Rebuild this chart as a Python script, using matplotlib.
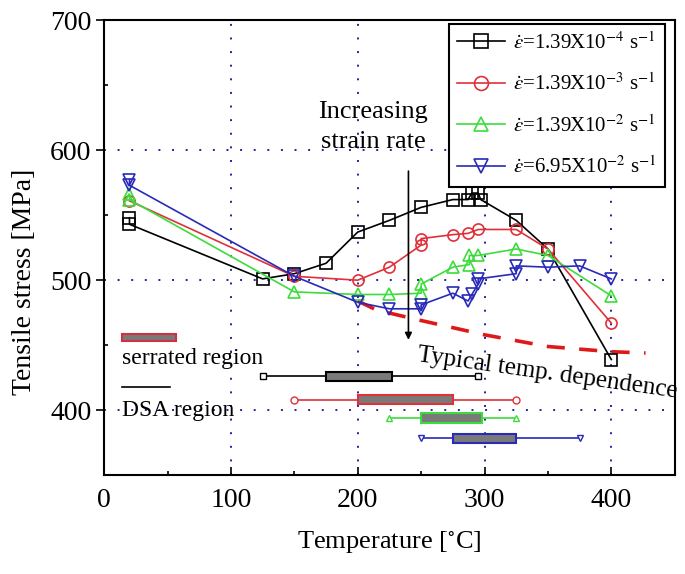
"""
Tensile stress vs. temperature for four strain rates, with DSA / serrated ranges
"""

import matplotlib
matplotlib.use("Agg")
import matplotlib.pyplot as plt
from matplotlib.ticker import MultipleLocator

plt.rcParams['font.family'] = ['Liberation Serif', 'DejaVu Serif']
plt.rcParams['mathtext.fontset'] = 'stix'

# Tensile stress data [MPa] for each strain rate
temp_1 = [20, 20, 125, 150, 175, 200, 225, 250, 275, 287, 290, 295, 297, 325, 350, 400]
stress_1 = [548, 543, 501, 505, 513, 537, 546, 556, 562, 562, 567, 567, 562, 546, 524, 439]

temp_2 = [20, 150, 200, 225, 250, 250, 275, 287, 295, 325, 350, 400]
stress_2 = [561, 503, 500, 510, 527, 532, 535, 536, 539, 539, 524, 467]

temp_3 = [20, 20, 150, 200, 225, 250, 250, 275, 288, 288, 295, 325, 350, 400]
stress_3 = [566, 562, 491, 489, 489, 490, 497, 510, 512, 519, 519, 524, 519, 488]

temp_4 = [20, 20, 150, 200, 225, 250, 250, 275, 287, 290, 295, 295, 325, 325, 350, 375, 400]
stress_4 = [577, 573, 503, 483, 478, 478, 481, 490, 484, 489, 497, 501, 505, 511, 510, 511, 501]

labels = [r'$\dot{\varepsilon}$=1.39X10$^{-4}$ s$^{-1}$',
          r'$\dot{\varepsilon}$=1.39X10$^{-3}$ s$^{-1}$',
          r'$\dot{\varepsilon}$=1.39X10$^{-2}$ s$^{-1}$',
          r'$\dot{\varepsilon}$=6.95X10$^{-2}$ s$^{-1}$']

# Typical (non-DSA) temperature dependence
typical_temp = [200, 215, 250, 300, 350, 400, 427]
typical_stress = [484, 477, 469, 458, 449, 445, 444]

# DSA region and serrated region per strain rate [deg C], drawn at bar_level
dsa_start = [125, 150, 225, 250]
dsa_end = [295, 325, 325, 375]
serr_start = [175, 200, 250, 275]
serr_end = [227, 275, 298, 325]
bar_level = [426, 408, 394, 378.5]

COLORS = ['black', '#e0303a', '#3ddc3d', '#2a2ab8']
MARKERS = ['s', 'o', '^', 'v']


def main():
    fig = plt.figure(figsize=(6.85, 5.74), dpi=100)
    ax = fig.add_axes([0.152, 0.172, 0.833, 0.793])

    series = [(temp_1, stress_1), (temp_2, stress_2),
              (temp_3, stress_3), (temp_4, stress_4)]
    for (t, s), c, m, lab in zip(series, COLORS, MARKERS, labels):
        ax.plot(t, s, color=c, lw=1.2, marker=m, ms=8, mfc='none',
                mec=c, mew=1.2, label=lab, zorder=3)

    ax.plot(typical_temp, typical_stress, color='#e01818', lw=2.6,
            dashes=(5, 4), zorder=2)

    # DSA lines with open end markers, serrated ranges as grey bars
    for i, c in enumerate(COLORS):
        ax.plot([dsa_start[i], dsa_end[i]], [bar_level[i]] * 2, color=c,
                lw=1.2, marker=MARKERS[i], ms=5, mfc='white', mec=c, zorder=3)
        ax.barh(bar_level[i], serr_end[i] - serr_start[i], left=serr_start[i],
                height=7, color='#7a7a7a', edgecolor=c, lw=1.5, zorder=4)

    # key for the bars
    ax.barh(456, 43, left=14, height=6, color='#7a7a7a', edgecolor='#d03040',
            lw=1.5, zorder=4)
    ax.text(14, 440, 'serrated region', fontsize=17, va='center', ha='left')
    ax.plot([14, 52], [418, 418], color='black', lw=1.2)
    ax.text(14, 400, 'DSA region', fontsize=17, va='center', ha='left')

    # strain-rate arrow and annotations
    ax.annotate('', xy=(240, 452), xytext=(240, 586),
                arrowprops=dict(arrowstyle='-|>', color='black', lw=1.2,
                                mutation_scale=10))
    ax.text(212, 618, 'Increasing\nstrain rate', fontsize=19, ha='center',
            va='center', linespacing=1.45)
    ax.text(248, 451, 'Typical temp. dependence', fontsize=18, rotation=-8,
            rotation_mode='anchor', ha='left', va='top')

    ax.set_xlim(0, 450)
    ax.set_ylim(350, 700)
    ax.set_xticks([0, 100, 200, 300, 400])
    ax.set_yticks([400, 500, 600, 700])
    ax.xaxis.set_minor_locator(MultipleLocator(50))
    ax.yaxis.set_minor_locator(MultipleLocator(50))
    ax.tick_params(axis='x', which='major', direction='in', length=6,
                   width=1.2, labelsize=20, pad=9)
    ax.tick_params(axis='x', which='minor', direction='in', length=3, width=1.2)
    ax.tick_params(axis='y', which='major', direction='out', length=6,
                   width=1.2, labelsize=20, pad=3)
    ax.tick_params(axis='y', which='minor', direction='in', length=3, width=1.2)
    for sp in ax.spines.values():
        sp.set_linewidth(1.5)

    # dotted grid at 100 deg C / 100 MPa steps
    for xv in [100, 200, 300, 400]:
        ax.axvline(xv, color='#22229a', lw=1.4, ls=(0, (1, 6)), zorder=1)
    for yv in [400, 500, 600]:
        ax.axhline(yv, color='#22229a', lw=1.4, ls=(0, (1, 6)), zorder=1)

    ax.set_xlabel('Temperature [$^{\\circ}$C]', fontsize=19, labelpad=12)
    ax.set_ylabel('Tensile stress [MPa]', fontsize=20)
    ax.yaxis.set_label_coords(-0.117, 0.424)

    leg = ax.legend(loc='upper right', bbox_to_anchor=(0.983, 0.992),
                    borderaxespad=0, fontsize=15, fancybox=False,
                    edgecolor='black', framealpha=1, labelspacing=0.95,
                    handlelength=2.3, handletextpad=0.4, borderpad=0.4,
                    markerscale=1.25)
    leg.get_frame().set_linewidth(1.5)

    fig.savefig('out.png', dpi=100)
    plt.close(fig)


if __name__ == "__main__":
    main()
